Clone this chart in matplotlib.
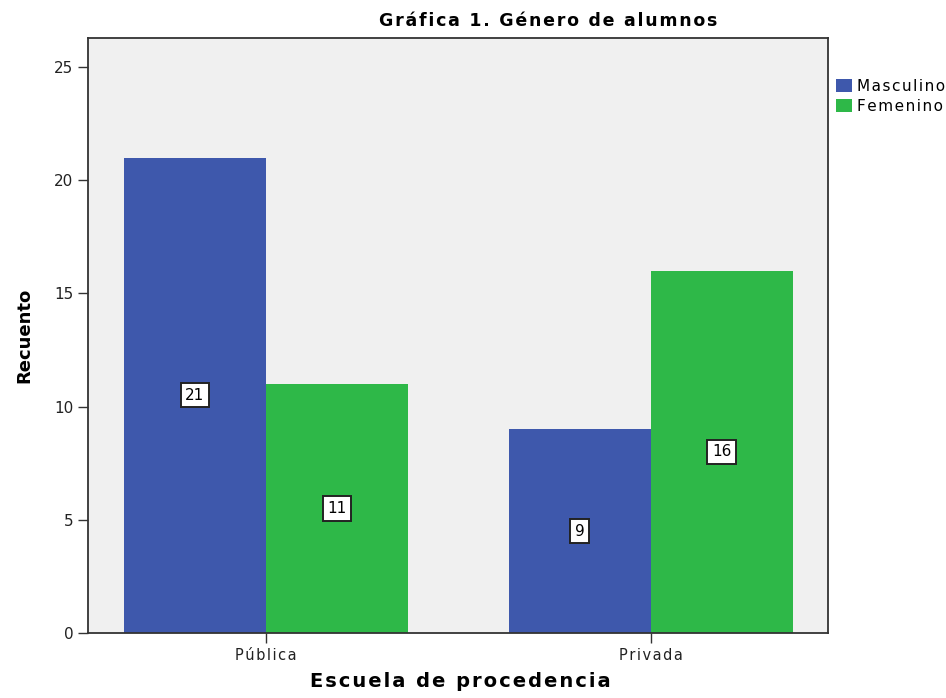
import numpy as np
import matplotlib.pyplot as plt
from matplotlib.patches import Patch

plt.rcParams['font.family'] = ['DejaVu Sans']

escuelas = ['Pública', 'Privada']
generos = ['Masculino', 'Femenino']
masculino = [21, 9]
femenino = [11, 16]
colores = ['#3e58ac', '#2eb848']


def espaciado(texto, sep='\u200a'):
    # separa un poco las letras de los textos
    return sep.join(texto)


fig = plt.figure(figsize=(9.46, 6.98), dpi=100)
ax = fig.add_axes([0.093, 0.0931, 0.782, 0.8525])
ax.set_facecolor('#f0f0f0')

x = np.arange(len(escuelas))
w = 0.369
barras_m = ax.bar(x - w / 2, masculino, w, color=colores[0], edgecolor='none')
barras_f = ax.bar(x + w / 2, femenino, w, color=colores[1], edgecolor='none')

# etiquetas de recuento a media altura de cada barra
for barras, valores in [(barras_m, masculino), (barras_f, femenino)]:
    for b, v in zip(barras, valores):
        ax.text(b.get_x() + b.get_width() / 2, v / 2, str(v), ha='center', va='center',
                fontsize=11, color='black',
                bbox=dict(boxstyle='square,pad=0.3', fc='white', ec='#222222', lw=1.4))

ax.set_xlim(-0.462, 1.46)
ax.set_ylim(0, 26.28)
ax.set_xticks(x)
ax.set_xticklabels([espaciado(e) for e in escuelas])
ax.set_yticks([0, 5, 10, 15, 20, 25])
ax.tick_params(axis='both', direction='out', length=7, width=1, color='#333333',
               labelsize=10.5, labelcolor='#222222')
ax.tick_params(axis='y', labelsize=11)
for s in ax.spines.values():
    s.set_color('#333333')
    s.set_linewidth(1.3)

ax.set_ylabel('Recuento', fontsize=13, fontweight='bold', labelpad=15)
fig.text(0.487, 0.010, espaciado('Escuela de procedencia'),
         ha='center', va='bottom', fontsize=14, fontweight='bold')
fig.text(0.580, 0.970, espaciado('Gráfica 1. Género de alumnos'),
         ha='center', va='center', fontsize=12.5, fontweight='bold')

handles = [Patch(facecolor=c, edgecolor='none') for c in colores]
fig.legend(handles, [espaciado(g) for g in generos], loc='upper left',
           bbox_to_anchor=(0.8816, 0.889),
           frameon=False, fontsize=11, handlelength=1.1, handleheight=0.95,
           handletextpad=0.3, labelspacing=0.3, borderaxespad=0, borderpad=0.1)

fig.savefig('out.png', dpi=100)
